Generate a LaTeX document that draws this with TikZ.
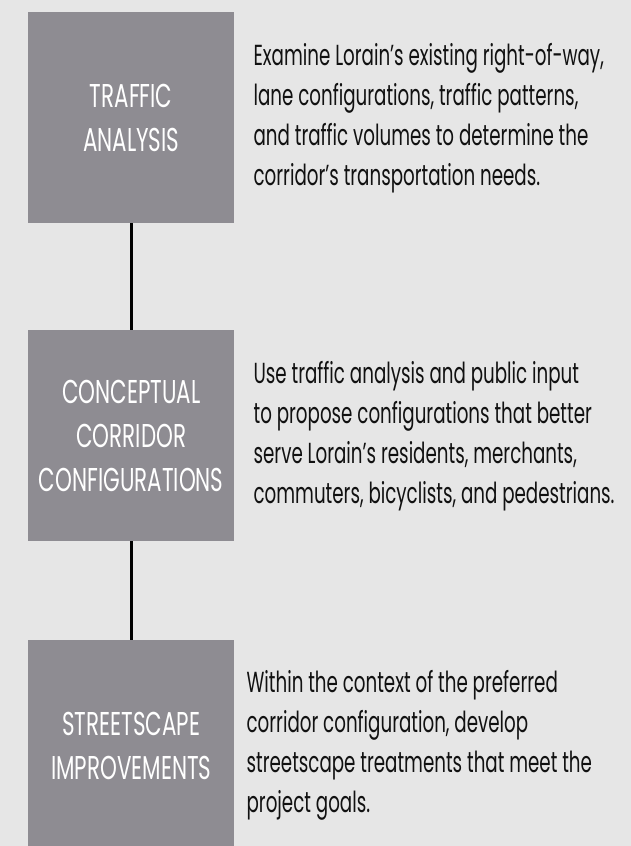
\documentclass[tikz,border=0pt]{standalone}
\usepackage{fontspec}
\setmainfont{Poppins}[FakeStretch=0.63]
\newfontfamily\stagefont{Poppins}[FakeStretch=0.65]
\usetikzlibrary{positioning}

\definecolor{pagegray}{RGB}{230,230,230}
\definecolor{stagegray}{RGB}{142,140,146}
\definecolor{inkblack}{RGB}{17,17,17}

\begin{document}
\begin{tikzpicture}
  [x=1pt, y=-1pt,
   stage/.style={rectangle, fill=stagegray, text=white, anchor=north west,
     minimum width=206pt, minimum height=211pt, inner sep=0pt, align=center,
     font=\stagefont\fontsize{33}{44}\selectfont},
   blurb/.style={inner sep=0pt, align=left, text=inkblack,
     font=\fontsize{29}{40}\selectfont},
   link/.style={line width=3pt, black}]
  \fill[pagegray] (0,0) rectangle (631,846);
  \useasboundingbox (0,0) rectangle (631,846);
  \clip (0,0) rectangle (631,846);
  % the three stages, top to bottom
  \node[stage] (traffic) at (28,12) {TRAFFIC\\ANALYSIS};
  \node[stage] (concept) at (28,330) {CONCEPTUAL\\CORRIDOR\\CONFIGURATIONS};
  \node[stage] (streets) at (28,640) {STREETSCAPE\\IMPROVEMENTS};
  % links between stages
  \draw[link] (traffic.south) -- (concept.north);
  \draw[link] (concept.south) -- (streets.north);
  % notes beside each stage
  \node[blurb, right=19pt of traffic] (trafficnote)
    {Examine Lorain’s existing right-of-way,\\lane configurations, traffic patterns,\\and traffic volumes to determine the\\corridor’s transportation needs.};
  \node[blurb, right=19pt of concept] (conceptnote)
    {Use traffic analysis and public input\\to propose configurations that better\\serve Lorain’s residents, merchants,\\commuters, bicyclists, and pedestrians.};
  \node[blurb, right=12pt of streets] (streetsnote)
    {Within the context of the preferred\\corridor configuration, develop\\streetscape treatments that meet the\\project goals.};
\end{tikzpicture}
\end{document}
